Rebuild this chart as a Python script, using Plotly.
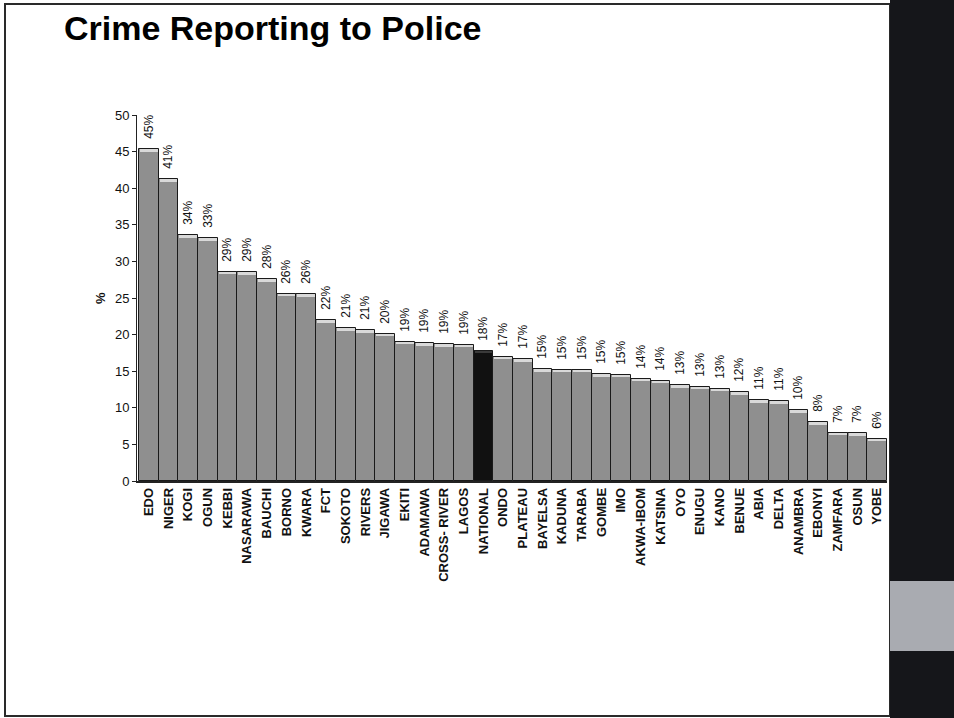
import plotly.graph_objects as go

# Share of crimes reported to police, by state (%)
states = ["EDO", "NIGER", "KOGI", "OGUN", "KEBBI", "NASARAWA", "BAUCHI", "BORNO",
          "KWARA", "FCT", "SOKOTO", "RIVERS", "JIGAWA", "EKITI", "ADAMAWA",
          "CROSS- RIVER", "LAGOS", "NATIONAL", "ONDO", "PLATEAU", "BAYELSA",
          "KADUNA", "TARABA", "GOMBE", "IMO", "AKWA-IBOM", "KATSINA", "OYO",
          "ENUGU", "KANO", "BENUE", "ABIA", "DELTA", "ANAMBRA", "EBONYI",
          "ZAMFARA", "OSUN", "YOBE"]
reported_pct = [45.3, 41.2, 33.6, 33.2, 28.6, 28.5, 27.6, 25.6,
                25.5, 22.0, 20.9, 20.6, 20.1, 19.0, 18.8,
                18.7, 18.6, 17.8, 17.0, 16.6, 15.3,
                15.2, 15.2, 14.6, 14.5, 14.0, 13.7, 13.1,
                12.9, 12.6, 12.1, 11.0, 10.9, 9.7, 8.0,
                6.6, 6.5, 5.8]
y_ticks = [0, 5, 10, 15, 20, 25, 30, 35, 40, 45, 50]

W, H = 954, 718
L, R, T, B = 137, 887, 115, 481  # plot area in pixels


def px(x):
    return (x - L) / (R - L)


def py(y):
    return (B - y) / (B - T)


bar_colors = ["#111111" if s == "NATIONAL" else "#8f8f8f" for s in states]
cap_colors = ["#3a3a3a" if s == "NATIONAL" else "#d9d9d9" for s in states]
cap_depth = 0.35

fig = go.Figure()
fig.add_trace(go.Bar(
    x=states, y=reported_pct,
    marker=dict(color=bar_colors, line=dict(color="#1a1a1a", width=1)),
    texttemplate="\u00a0\u00a0%{y:.0f}%", textposition="outside", textangle=-90,
    constraintext="none",
    textfont=dict(family="Liberation Sans, Arial", size=12, color="#111111"),
    cliponaxis=False, width=1.0, hoverinfo="skip",
))
# light bevel along the top of each bar
fig.add_trace(go.Bar(
    x=states, y=[cap_depth] * len(states),
    base=[v - cap_depth for v in reported_pct],
    marker=dict(color=cap_colors, line=dict(width=0)),
    width=0.9, hoverinfo="skip",
))

shapes = [
    # slide frame
    dict(type="rect", xref="paper", yref="paper",
         x0=px(5), x1=px(890), y0=py(716), y1=py(4),
         line=dict(color="#2a2a2a", width=2), fillcolor="rgba(0,0,0,0)", layer="below"),
    # dark side panel
    dict(type="rect", xref="paper", yref="paper",
         x0=px(890), x1=px(954), y0=py(718), y1=py(0),
         line=dict(width=0), fillcolor="#15161a", layer="above"),
    dict(type="rect", xref="paper", yref="paper",
         x0=px(890), x1=px(954), y0=py(651), y1=py(581),
         line=dict(width=0), fillcolor="#a9abb1", layer="above"),
]

annotations = [
    dict(text="<b>Crime Reporting to Police</b>", xref="paper", yref="paper",
         x=px(62), y=py(28), xanchor="left", yanchor="middle", showarrow=False,
         font=dict(family="Liberation Sans, Arial", size=34, color="#000000")),
    dict(text="<b>%</b>", xref="paper", yref="paper",
         x=px(100), y=py(298), xanchor="center", yanchor="middle", showarrow=False,
         textangle=-90,
         font=dict(family="Liberation Sans, Arial", size=13, color="#111111")),
]

fig.update_layout(
    width=W, height=H,
    margin=dict(l=L, r=W - R, t=T, b=H - B, pad=0),
    paper_bgcolor="white", plot_bgcolor="white",
    barmode="overlay", bargap=0, showlegend=False,
    shapes=shapes, annotations=annotations,
)
fig.update_xaxes(
    tickangle=-90, showline=True, linecolor="#222222", linewidth=1.5,
    ticks="", showgrid=False, range=[-0.6, len(states) - 0.5],
    tickfont=dict(family="Liberation Sans, Arial", size=13, color="#111111"),
    tickprefix="<b>", ticksuffix="</b>",
)
fig.update_yaxes(
    range=[0, 50], tickvals=y_ticks, showline=True, linecolor="#222222", linewidth=1,
    ticks="outside", ticklen=4, tickcolor="#222222", showgrid=False, zeroline=False,
    tickfont=dict(family="Liberation Sans, Arial", size=13, color="#111111"),
)

fig.write_html("out.html")
